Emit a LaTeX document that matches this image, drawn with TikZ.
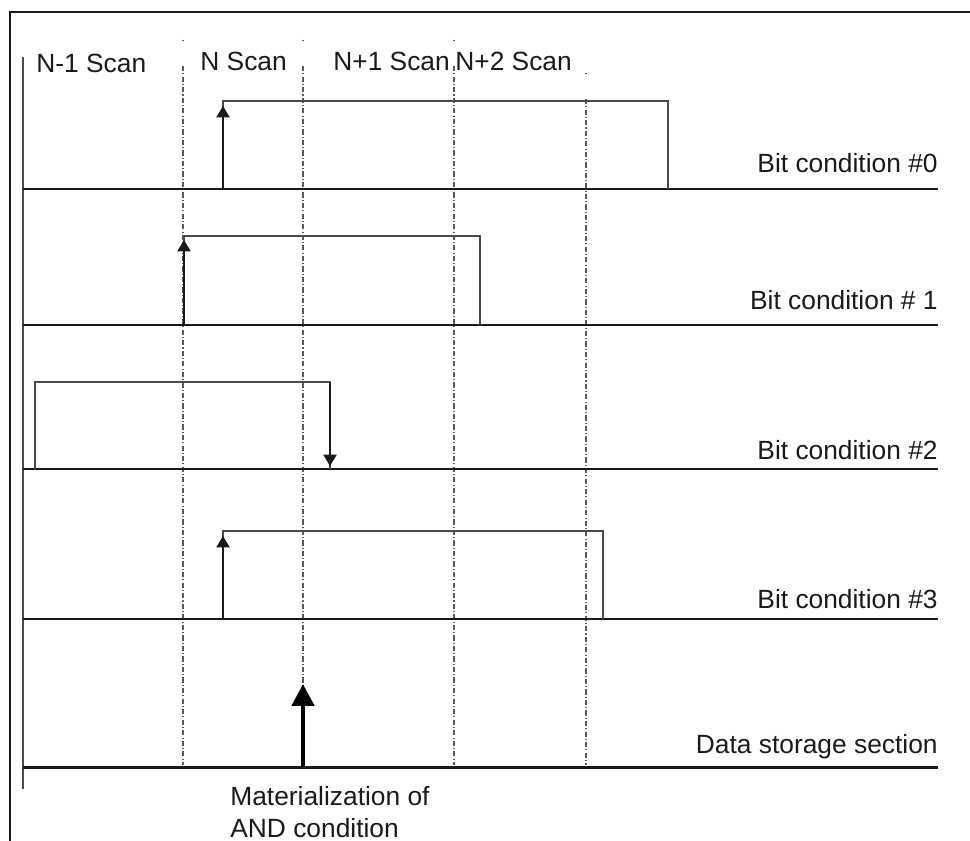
\documentclass[tikz,border=0pt]{standalone}
\usepackage{fontspec}
\setmainfont{Liberation Sans}
\usetikzlibrary{arrows.meta}
\definecolor{ink}{HTML}{1A1A1A}
\definecolor{wave}{HTML}{4A4A4A}
\definecolor{scan}{HTML}{5A5A5A}
\tikzset{
  framestyle/.style={line width=1.1pt,color=ink},
  baseln/.style={line width=1.7pt,color=ink},
  waveln/.style={line width=1.3pt,color=wave,line join=miter},
  scanln/.style={line width=0.9pt,color=scan,
    dash pattern=on 3pt off 1.2pt on 0.6pt off 1.2pt},
  edgetip/.style={-{Triangle[length=6.5pt,width=7.5pt]},line width=1.2pt,color=ink},
  andtip/.style={-{Triangle[length=12.5pt,width=12.5pt]},line width=2.8pt,color=black},
  lbl/.style={font=\fontsize{15}{18}\selectfont,text=ink,inner sep=0pt},
}

\begin{document}
\begin{tikzpicture}[x=0.02cm,y=-0.02cm]
  \useasboundingbox (0,0) rectangle (970,841);
  % frame and time axis
  \draw[framestyle] (10,841) -- (10,12) -- (970,12);
  \draw[baseln,color=wave] (23,57) -- (23,789);
  % scan boundaries
  \foreach \sx/\sy in {183/40,303/40,454/40,586/73}{
    \draw[scanln] (\sx,\sy) -- (\sx,\sy+1.5);
    \draw[scanln] (\sx,\sy+26) -- (\sx,765);
  }
  \node[lbl,anchor=base west] (scan0) at (36,73) {N-1 Scan};
  \node[lbl,anchor=base west] (scan1) at (200,71) {N Scan};
  \node[lbl,anchor=base west] (scan2) at (333,71) {N+1 Scan};
  \node[lbl,anchor=base west] (scan3) at (455,71) {N+2 Scan};

  % bit condition #0
  \draw[baseln] (23,189) -- (938,189);
  \draw[waveln] (223,189) -- (223,101) -- (668,101) -- (668,189);
  \draw[edgetip] (223,189) -- (223,106);
  \node[lbl,anchor=base east] (bit0) at (938,173) {Bit condition \#0};

  % bit condition #1
  \draw[baseln] (23,325) -- (938,325);
  \draw[waveln] (184,325) -- (184,236) -- (480,236) -- (480,325);
  \draw[edgetip] (184,325) -- (184,240);
  \node[lbl,anchor=base east] (bit1) at (938,309) {Bit condition \# 1};

  % bit condition #2
  \draw[baseln] (23,469) -- (938,469);
  \draw[waveln] (35,469) -- (35,382) -- (330,382) -- (330,469);
  \draw[edgetip] (330,382) -- (330,466);
  \node[lbl,anchor=base east] (bit2) at (938,459) {Bit condition \#2};

  % bit condition #3
  \draw[baseln] (23,619) -- (938,619);
  \draw[waveln] (223,619) -- (223,531) -- (603,531) -- (603,619);
  \draw[edgetip] (223,619) -- (223,536);
  \node[lbl,anchor=base east] (bit3) at (938,608) {Bit condition \#3};

  % data storage section
  \draw[baseln] (23,767) -- (938,767);
  \coordinate (andfoot) at (303,767);
  \coordinate (andtop) at (303,684);
  \draw[andtip] (andfoot) -- (andtop);
  \node[lbl,anchor=base east] (store) at (938,753) {Data storage section};
  \node[lbl,anchor=base west,align=left] (andnote) at (230,837)
    {Materialization of\\AND condition};
\end{tikzpicture}
\end{document}
